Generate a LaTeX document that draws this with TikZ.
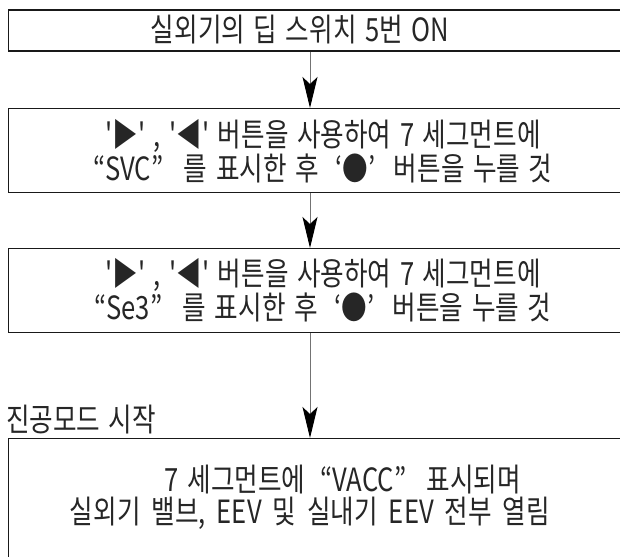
\documentclass[tikz,border=0pt]{standalone}
\usepackage{fontspec}
\usetikzlibrary{arrows.meta}
\newfontfamily\kr{Noto Sans CJK KR}[FakeStretch=0.8,WordSpace=1.5]
\newcommand\qgap[1]{\hspace{#1pt}}
\begin{document}
\begin{tikzpicture}[x=1pt,y=-1pt,
  box/.style={draw=black!90,line width=1.3pt,rectangle,inner sep=0pt,anchor=north west,minimum width=700pt},
  txt/.style={font=\kr\fontsize{32}{34}\selectfont,text=black!85,align=center,inner sep=0pt},
  arr/.style={draw=black!55,line width=1pt,-{Stealth[length=31pt,width=15pt,inset=7pt,color=black]}}]
\useasboundingbox (0,0) rectangle (620,556);
\clip (0,0) rectangle (620,556);
\node[box,minimum height=41pt] (b1) at (8,9.5) {};
\node[box,minimum height=84pt] (b2) at (8,108) {};
\node[box,minimum height=84pt] (b3) at (8,248) {};
\node[box,minimum height=262pt] (b4) at (8,438) {};
\coordinate (ax) at (310,0);
\draw[arr] (b1.south -| ax) -- (b2.north -| ax);
\draw[arr] (b2.south -| ax) -- (b3.north -| ax);
\draw[arr] (b3.south -| ax) -- (b4.north -| ax);
\node[txt] (t1) at (300,30) {실외기의 딥 스위치 5번 ON};
\node[txt] (t2) at (323,151) {'▶' , '◀' 버튼을 사용하여 7 세그먼트에\\“SVC”\qgap{12} 를 표시한 후\qgap{8} ‘●’\qgap{10} 버튼을 누를 것};
\node[txt] (t3) at (323,290) {'▶' , '◀' 버튼을 사용하여 7 세그먼트에\\“Se3”\qgap{12} 를 표시한 후\qgap{8} ‘●’\qgap{10} 버튼을 누를 것};
\node[txt,anchor=west] (lbl) at (6,420) {진공모드 시작};
\node[txt] (t4a) at (343,480) {7 세그먼트에\qgap{6} “VACC”\qgap{12} 표시되며};
\node[txt] (t4b) at (310,513) {{\spaceskip=11pt 실외기 밸브, EEV 및 실내기 EEV 전부 열림}};
\end{tikzpicture}
\end{document}
